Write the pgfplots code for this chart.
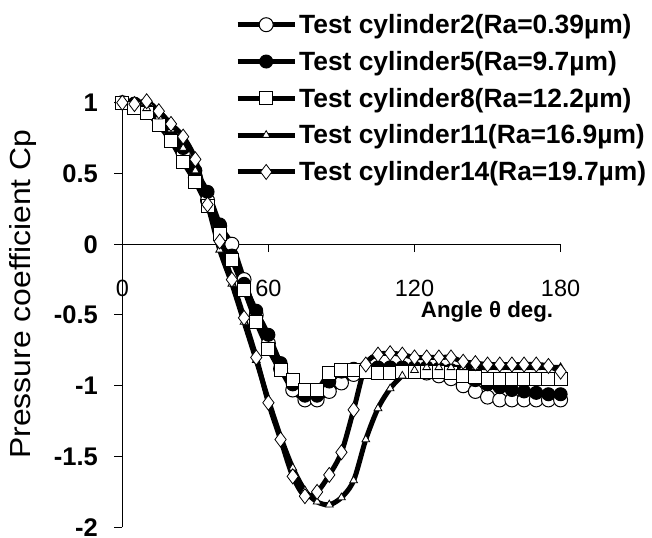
\documentclass[border=0pt]{standalone}
\usepackage{fontspec}
\setmainfont{Liberation Sans}
\usepackage{pgfplots}
\pgfplotsset{compat=1.18}
\begin{document}
\begin{tikzpicture}
\begin{axis}[
  at={(122.3bp,10.7bp)}, anchor=south west,
  scale only axis, width=438.3bp, height=424.6bp,
  xmin=0, xmax=180, ymin=-2, ymax=1,
  axis x line*=middle, axis y line*=left,
  xtick={0,60,120,180}, ytick={-2,-1.5,-1,-0.5,0,0.5,1},
  tick align=outside, major tick length=8bp,
  hide obscured x ticks=false, hide obscured y ticks=false,
  tick style={black, line width=1bp}, axis line style={black, line width=1bp},
  /pgf/number format/assume math mode=true,
  xticklabel style={font=\fontsize{23.5bp}{27bp}\selectfont, yshift=-24bp},
  yticklabel style={font=\bfseries\fontsize{25.5bp}{29bp}\selectfont, xshift=-13bp},
  every axis x label/.style={at={(axis description cs:0.991,0.494)}, anchor=base east, font=\bfseries\fontsize{22.3bp}{26bp}\selectfont},
  every axis y label/.style={at={(axis description cs:-0.226,0.549)}, rotate=90, anchor=center, font=\fontsize{29bp}{34bp}\selectfont},
  xlabel={Angle θ deg.}, ylabel={\scalebox{1.1}[1]{Pressure coefficient Cp}},
  clip=false,
  legend style={at={(axis description cs:0.2571,1.2131)}, anchor=north west, draw=none, fill=none, inner sep=0pt,
    font=\bfseries\fontsize{26.4bp}{30bp}\selectfont, row sep=12.2bp, legend cell align=left},
  legend image code/.code={\draw[mark repeat=2,mark phase=2,#1] plot coordinates {(0bp,0bp) (28.5bp,0bp) (57bp,0bp)};},
  every axis plot/.append style={black, line width=5bp},
]
\addplot[smooth, mark=*, mark size=7bp, mark options={solid, fill=white, draw=black, line width=1bp}] coordinates {
(0,1.00) (5,0.99) (10,0.96) (15,0.89) (20,0.78) (25,0.64) (30,0.47) (35,0.31) (40,0.13) (45,0.00)
(50,-0.25) (55,-0.50) (60,-0.70) (65,-0.88) (70,-1.03) (75,-1.10) (80,-1.10) (85,-1.04) (90,-0.98)
(95,-0.92) (100,-0.89) (105,-0.88) (110,-0.88) (115,-0.88) (120,-0.89) (125,-0.91) (130,-0.93)
(135,-0.95) (140,-1.00) (145,-1.04) (150,-1.08) (155,-1.10) (160,-1.10) (165,-1.10) (170,-1.10)
(175,-1.10) (180,-1.10)};
\addlegendentry{Test cylinder2(Ra=0.39µm)}
\addplot[smooth, mark=*, mark size=6.5bp, mark options={solid, fill=black, draw=black, line width=1bp}] coordinates {
(0,1.00) (5,0.99) (10,0.95) (15,0.89) (20,0.80) (25,0.68) (30,0.52) (35,0.37) (40,0.14) (45,-0.08)
(50,-0.28) (55,-0.47) (60,-0.64) (65,-0.84) (70,-0.99) (75,-1.07) (80,-1.07) (85,-0.97) (90,-0.90)
(95,-0.88) (100,-0.87) (105,-0.87) (110,-0.87) (115,-0.87) (120,-0.87) (125,-0.87) (130,-0.88)
(135,-0.89) (140,-0.92) (145,-0.96) (150,-0.99) (155,-1.01) (160,-1.03) (165,-1.04) (170,-1.05)
(175,-1.06) (180,-1.06)};
\addlegendentry{Test cylinder5(Ra=9.7µm)}
\addplot[smooth, mark=square*, mark size=6.5bp, mark options={solid, fill=white, draw=black, line width=1bp}] coordinates {
(0,1.00) (5,0.96) (10,0.93) (15,0.84) (20,0.73) (25,0.58) (30,0.44) (35,0.27) (40,0.07) (45,-0.11)
(50,-0.32) (55,-0.55) (60,-0.74) (65,-0.89) (70,-0.96) (75,-1.03) (80,-1.03) (85,-0.91) (90,-0.89)
(95,-0.89) (100,-0.90) (105,-0.91) (110,-0.91) (115,-0.90) (120,-0.90) (125,-0.90) (130,-0.90)
(135,-0.91) (140,-0.93) (145,-0.94) (150,-0.95) (155,-0.95) (160,-0.95) (165,-0.95) (170,-0.95)
(175,-0.95) (180,-0.95)};
\addlegendentry{Test cylinder8(Ra=12.2µm)}
\addplot[smooth, mark=triangle*, mark size=4.5bp, mark options={solid, fill=white, draw=black, line width=0.8bp}] coordinates {
(0,1.00) (5,0.99) (10,0.96) (15,0.90) (20,0.81) (25,0.68) (30,0.52) (35,0.28) (40,-0.04) (45,-0.28)
(50,-0.55) (55,-0.82) (60,-1.10) (65,-1.36) (70,-1.58) (75,-1.74) (80,-1.82) (85,-1.84) (90,-1.79)
(95,-1.67) (100,-1.38) (105,-1.16) (110,-1.02) (115,-0.93) (120,-0.89) (125,-0.87) (130,-0.87)
(135,-0.87) (140,-0.87) (145,-0.87) (150,-0.87) (155,-0.87) (160,-0.87) (165,-0.87) (170,-0.87)
(175,-0.87) (180,-0.87)};
\addlegendentry{Test cylinder11(Ra=16.9µm)}
\addplot[smooth, mark=diamond*, mark size=7.5bp, mark options={solid, fill=white, draw=black, line width=0.8bp}] coordinates {
(0,1.00) (5,0.99) (10,1.01) (15,0.94) (20,0.85) (25,0.76) (30,0.60) (35,0.28) (40,0.02) (45,-0.25)
(50,-0.52) (55,-0.80) (60,-1.12) (65,-1.38) (70,-1.64) (75,-1.78) (80,-1.75) (85,-1.63) (90,-1.47)
(95,-1.17) (100,-0.85) (105,-0.78) (110,-0.77) (115,-0.78) (120,-0.80) (125,-0.80) (130,-0.80)
(135,-0.80) (140,-0.83) (145,-0.84) (150,-0.85) (155,-0.85) (160,-0.85) (165,-0.85) (170,-0.85)
(175,-0.86) (180,-0.90)};
\addlegendentry{Test cylinder14(Ra=19.7µm)}
\end{axis}
\pgfresetboundingbox
\useasboundingbox (0,0) rectangle (652bp,538bp);
\end{tikzpicture}
\end{document}
